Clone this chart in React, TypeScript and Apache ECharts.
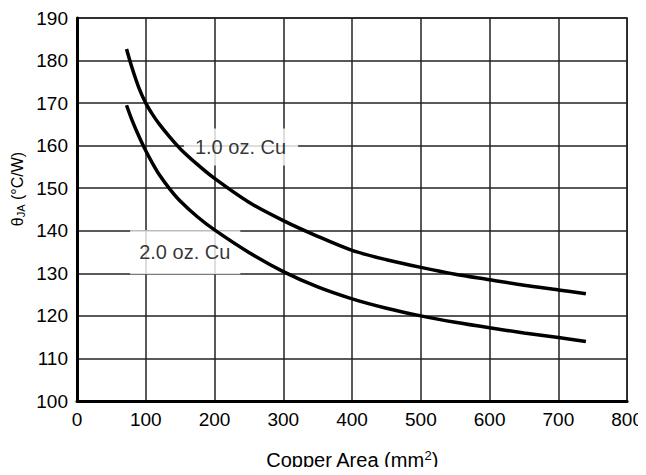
import React, { useEffect, useRef } from "react";
import * as echarts from "echarts";

const xTicks = [0, 100, 200, 300, 400, 500, 600, 700, 800];
const yTicks = [100, 110, 120, 130, 140, 150, 160, 170, 180, 190];

const oz1Area = [72, 80, 90, 100, 110, 120, 135, 150, 175, 200, 250, 300, 350, 400, 450, 500, 550, 600, 650, 700, 740];
const oz1Theta = [182.7, 178.3, 173.6, 170, 167.3, 165, 162, 159.3, 155.6, 152.3, 146.7, 142.4, 138.7, 135.4, 133.2, 131.4, 129.8, 128.5, 127.2, 126.1, 125.2];

const oz2Area = [72, 80, 90, 100, 110, 120, 135, 150, 175, 200, 250, 300, 350, 400, 450, 500, 550, 600, 650, 700, 740];
const oz2Theta = [169.5, 166, 162.2, 158.8, 155.8, 153.1, 149.8, 147, 143.3, 140.2, 134.9, 130.4, 126.8, 124, 121.8, 120, 118.5, 117.2, 116, 114.9, 114];

const curveLabels = ["1.0 oz. Cu", "2.0 oz. Cu"];
const labelAreas = [238.5, 157.4];
const labelThetas = [159.7, 134.95];

const FONT = "'Liberation Sans', Arial, Helvetica, sans-serif";

export default function App() {
  const ref = useRef<HTMLDivElement>(null);
  useEffect(() => {
    if (!ref.current) return;
    const chart = echarts.init(ref.current, null, { renderer: "svg" });
    const zip = (a: number[], b: number[]) => a.map((v, i) => [v, b[i]]);
    const pads = [
      [12, 12, 5, 11],
      [13, 10, 11, 9],
    ];
    chart.setOption({
      animation: false,
      backgroundColor: "#fff",
      textStyle: { fontFamily: FONT, color: "#000" },
      grid: {
        left: 77,
        right: 17,
        top: 18,
        bottom: 74,
        show: true,
        borderColor: "#222",
        borderWidth: 1.5,
      },
      xAxis: {
        type: "value",
        min: xTicks[0],
        max: xTicks[xTicks.length - 1],
        interval: 100,
        axisLine: { show: true, lineStyle: { color: "#000", width: 3 } },
        axisTick: { show: false },
        axisLabel: { fontSize: 19, color: "#000", fontFamily: FONT, margin: 9 },
        splitLine: { show: true, lineStyle: { color: "#222", width: 1.5 } },
        name: "Copper Area (mm{sup|2})",
        nameLocation: "middle",
        nameGap: 48,
        nameTextStyle: {
          fontSize: 20,
          color: "#000",
          fontFamily: FONT,
          rich: {
            sup: { fontSize: 13, fontFamily: FONT, color: "#000", padding: [0, 0, 9, 0] },
          },
        },
      },
      yAxis: {
        type: "value",
        min: yTicks[0],
        max: yTicks[yTicks.length - 1],
        interval: 10,
        axisLine: { show: true, lineStyle: { color: "#000", width: 3 } },
        axisTick: { show: false },
        axisLabel: { fontSize: 19, color: "#000", fontFamily: FONT, margin: 9 },
        splitLine: { show: true, lineStyle: { color: "#222", width: 1.5 } },
      },
      graphic: [
        {
          type: "text",
          x: 17,
          y: 189,
          rotation: Math.PI / 2,
          style: {
            text: "θ{sub|JA} (°C/W)",
            fontSize: 16,
            fontFamily: FONT,
            fill: "#000",
            align: "center",
            verticalAlign: "middle",
            rich: {
              sub: { fontSize: 11, fontFamily: FONT, fill: "#000", padding: [7, 0, 0, 0] },
            },
          },
        },
      ],
      series: [
        {
          type: "scatter",
          z: 1,
          symbolSize: 0,
          data: curveLabels.map((name, i) => ({
            value: [labelAreas[i], labelThetas[i]],
            name,
            label: { padding: pads[i] },
          })),
          label: {
            show: true,
            position: "inside",
            formatter: (p: any) => p.name,
            fontSize: 20,
            fontFamily: FONT,
            color: "#000",
            backgroundColor: "#fff",
          },
        },
        {
          type: "line",
          z: 3,
          data: zip(oz1Area, oz1Theta),
          smooth: 0.3,
          showSymbol: false,
          lineStyle: { color: "#000", width: 3.5 },
        },
        {
          type: "line",
          z: 3,
          data: zip(oz2Area, oz2Theta),
          smooth: 0.3,
          showSymbol: false,
          lineStyle: { color: "#000", width: 3.5 },
        },
      ],
    });
    return () => chart.dispose();
  }, []);
  return <div ref={ref} style={{ width: 646, height: 475, margin: -8 }} />;
}
